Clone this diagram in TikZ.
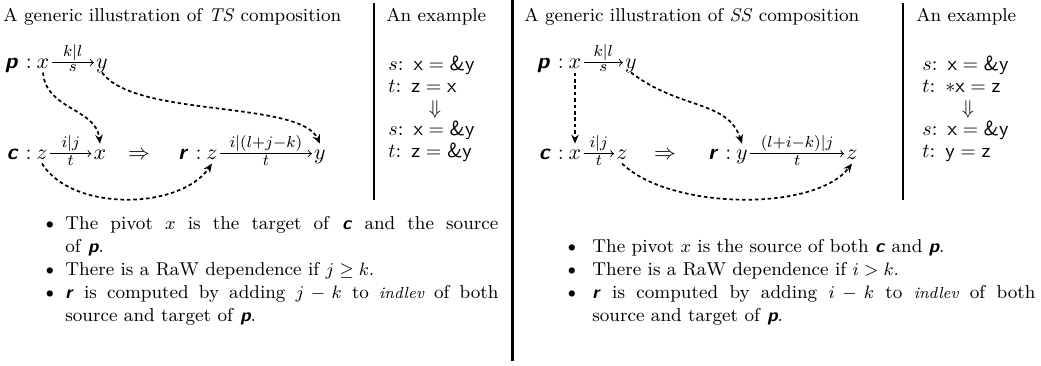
\documentclass[tikz,border=0pt]{standalone}
\usepackage{amsmath,amssymb}
\usetikzlibrary{arrows.meta}

\newcommand{\rp}{\textsf{\bfseries\itshape p}}
\newcommand{\rc}{\textsf{\bfseries\itshape c}}
\newcommand{\rr}{\textsf{\bfseries\itshape r}}
\newcommand{\indlev}{{\fontsize{8}{10}\selectfont\itshape indlev}}
\newcommand{\codeline}[3]{$#1$:\enspace$\textsf{#2} = \textsf{#3}$}

\tikzset{
  var/.style={inner sep=1pt, anchor=base, text height=1.5ex, text depth=0.25ex,
    font=\fontsize{11}{13}\selectfont},
  rel/.style={inner sep=1pt, anchor=base east, font=\fontsize{11}{13}\selectfont},
  sol/.style={-to, line width=0.45pt},
  lbl/.style={inner sep=0.8pt, font=\fontsize{8.2}{9}\selectfont},
  dep/.style={line width=0.85pt, dash pattern=on 1.8pt off 1.4pt,
    -{Stealth[length=4.5pt,width=3.8pt]}},
  exline/.style={inner sep=0pt, anchor=base west},
  code/.style={inner sep=0pt, anchor=base west, font=\fontsize{10.2}{11}\selectfont},
  infer/.style={inner sep=0pt, anchor=base, font=\fontsize{10.2}{11}\selectfont},
  bul/.style={inner sep=0pt, anchor=base, font=\fontsize{11.5}{12}\selectfont},
  item/.style={inner sep=0pt, anchor=north west, align=justify},
}

\begin{document}
\begin{tikzpicture}[x=0.5pt, y=0.5pt, font=\fontsize{9.3}{11.5}\selectfont]
  \useasboundingbox (0,0) rectangle (1041,-365);

  % titles and rules
  \node[exline] (ts) at (3,-21) {A generic illustration of \textit{TS} composition};
  \node[exline] (ex1) at (386,-21) {An example};
  \node[exline] (ss) at (524,-21) {A generic illustration of \textit{SS} composition};
  \node[exline] (ex2) at (916,-21) {An example};
  \draw[line width=0.6pt] (374,-3) -- (374,-200);
  \draw[line width=0.6pt] (903,-3) -- (903,-200);
  \draw[line width=1.5pt] (512,0) -- (512,-361);

  % TS composition
  \node[var] (px) at (43,-68) {$x$};
  \node[var] (py) at (102,-68) {$y$};
  \node[rel] (pl) at (px.base west) {\rp\ :};
  \node[var] (cz) at (42,-159) {$z$};
  \node[var] (cx) at (100,-159) {$x$};
  \node[rel] (cl) at (cz.base west) {\rc\ :};
  \node[var] (imp) at (139,-159) {$\Rightarrow$};
  \node[var] (rz) at (212,-159) {$z$};
  \node[var] (ry) at (320,-159) {$y$};
  \node[rel] (rl) at (rz.base west) {\rr\ :};
  \draw[sol] (px) -- node[lbl, above] {$k|l$} node[lbl, below] {$s$} (py);
  \draw[sol] (cz) -- node[lbl, above] {$i|j$} node[lbl, below] {$t$} (cx);
  \draw[sol] (rz) -- node[lbl, above] {$i|(l{+}j{-}k)$} node[lbl, below] {$t$} (ry);
  \draw[dep] (px.south) .. controls (46,-110) and (96,-108) .. (cx.north);
  \draw[dep] (py.south) .. controls (135,-118) and (300,-100) .. (ry.north);
  \draw[dep] (cz.south) .. controls (72,-212) and (180,-210) .. (rz.south);

  % TS example
  \node[code] (e1a) at (388,-70) {\codeline{s}{x}{\&y}};
  \node[code] (e1b) at (388,-92) {\codeline{t}{z}{x}};
  \node[infer] (e1c) at (435,-114) {$\Downarrow$};
  \node[code] (e1d) at (388,-135) {\codeline{s}{x}{\&y}};
  \node[code] (e1e) at (388,-157) {\codeline{t}{z}{\&y}};

  % SS composition
  \node[var] (qx) at (575,-68) {$x$};
  \node[var] (qy) at (631,-68) {$y$};
  \node[rel] (ql) at (qx.base west) {\rp\ :};
  \node[var] (dx) at (575,-159) {$x$};
  \node[var] (dz) at (622,-159) {$z$};
  \node[rel] (dl) at (dx.base west) {\rc\ :};
  \node[var] (imq) at (665,-159) {$\Rightarrow$};
  \node[var] (sy) at (742,-159) {$y$};
  \node[var] (sz) at (852,-159) {$z$};
  \node[rel] (sl) at (sy.base west) {\rr\ :};
  \draw[sol] (qx) -- node[lbl, above] {$k|l$} node[lbl, below] {$s$} (qy);
  \draw[sol] (dx) -- node[lbl, above] {$i|j$} node[lbl, below] {$t$} (dz);
  \draw[sol] (sy) -- node[lbl, above] {$(l{+}i{-}k)|j$} node[lbl, below] {$t$} (sz);
  \draw[dep] (qx.south) -- (dx.north);
  \draw[dep] (qy.south) .. controls (680,-110) and (728,-100) .. (sy.north);
  \draw[dep] (dz.south) .. controls (670,-210) and (815,-212) .. (sz.south);

  % SS example
  \node[code] (e2a) at (922,-70) {\codeline{s}{x}{\&y}};
  \node[code] (e2b) at (922,-92) {\codeline{t}{$\ast$x}{z}};
  \node[infer] (e2c) at (968,-114) {$\Downarrow$};
  \node[code] (e2d) at (922,-135) {\codeline{s}{x}{\&y}};
  \node[code] (e2e) at (922,-157) {\codeline{t}{y}{z}};

  % TS bullets
  \node[bul] (b1) at (50,-230) {\textbullet};
  \node[item, text width=216.5pt] (i1) at (65,-216) {The pivot $x$ is the target of \rc{} and the source\linebreak of \rp.};
  \node[bul] (b2) at (50,-276) {\textbullet};
  \node[item, text width=216.5pt] (i2) at (65,-262) {There is a RaW dependence if $j \geq k$.};
  \node[bul] (b3) at (50,-299) {\textbullet};
  \node[item, text width=216.5pt] (i3) at (65,-285) {\rr{} is computed by adding $j-k$ to \indlev{} of both\linebreak source and target of \rp.};

  % SS bullets
  \node[bul] (c1) at (572,-253) {\textbullet};
  \node[item, text width=221.5pt] (j1) at (592,-239) {The pivot $x$ is the source of both \rc{} and \rp.};
  \node[bul] (c2) at (572,-276) {\textbullet};
  \node[item, text width=221.5pt] (j2) at (592,-262) {There is a RaW dependence if $i > k$.};
  \node[bul] (c3) at (572,-299) {\textbullet};
  \node[item, text width=221.5pt] (j3) at (592,-285) {\rr{} is computed by adding $i-k$ to \indlev{} of both\linebreak source and target of \rp.};
\end{tikzpicture}
\end{document}
